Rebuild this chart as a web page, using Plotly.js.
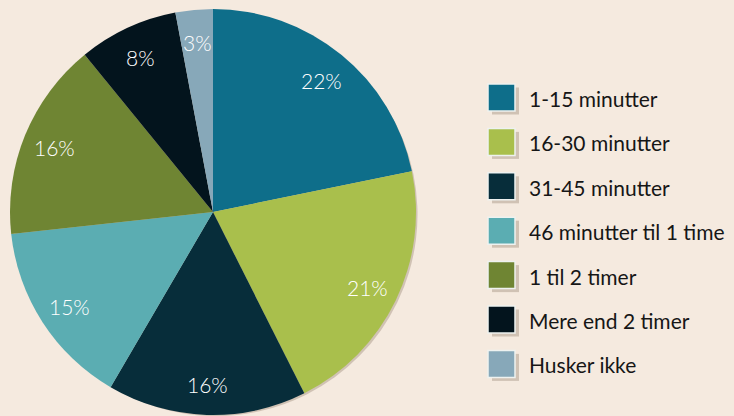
<!DOCTYPE html>
<html><head><meta charset="utf-8">
<script src="https://cdn.plot.ly/plotly-3.0.1.min.js"></script>
<style>html,body{margin:0;padding:0;background:#f5eadf;}#chart{width:734px;height:416px;}</style>
</head><body><div id="chart"></div>
<script>
const categories = ["1-15 minutter","16-30 minutter","31-45 minutter","46 minutter til 1 time","1 til 2 timer","Mere end 2 timer","Husker ikke"];
const values = [22,21,16,15,16,8,3];
const percentLabels = ["22%","21%","16%","15%","16%","8%","3%"];
const colors = ["#0e6e8a","#a9bf4c","#072d3a","#5badb2","#6f8533","#03141d","#87a8b9"];

const W = 734, H = 416;
const cx = 213, cy = 212, R = 203;
const font = "Lato, 'Open Sans', sans-serif";

function dom(ox, oy){
  return {x:[(cx-R+ox)/W,(cx+R+ox)/W], y:[1-(cy+R+oy)/H, 1-(cy-R+oy)/H]};
}

const shadow = {
  type:'pie', values: values, labels: categories, sort:false, direction:'clockwise', rotation:0,
  marker:{colors: values.map(()=> 'rgba(110,90,70,0.28)'), line:{width:0}},
  textinfo:'none', hoverinfo:'skip', showlegend:false, domain: dom(3,4)
};
const pie = {
  type:'pie', values: values, labels: categories, sort:false, direction:'clockwise', rotation:0,
  marker:{colors: colors, line:{width:0}},
  textinfo:'none', hoverinfo:'label+percent', showlegend:false, domain: dom(0,0)
};

const annotations = [];
const shapes = [];
const total = values.reduce((a,b)=>a+b,0);
let cum = 0;
values.forEach((v,i)=>{
  const mid = (cum + v/2)/total*2*Math.PI;
  cum += v;
  const rr = R*0.845;
  const px = cx + rr*Math.sin(mid), py = cy - rr*Math.cos(mid);
  annotations.push({xref:'paper', yref:'paper', x:px/W, y:1-(py+1)/H, text:percentLabels[i], showarrow:false,
    xanchor:'center', yanchor:'middle', font:{family:font, size:21, weight:300, color:'#ffffff'}});
});

categories.forEach((c,i)=>{
  const yc = 97.5 + i*44.4;
  shapes.push({type:'rect', xref:'paper', yref:'paper', x0:(489+3)/W, x1:(516+3)/W, y0:1-(yc+14+3)/H, y1:1-(yc-13+3)/H,
    fillcolor:'rgba(110,90,70,0.28)', line:{width:0}, layer:'above'});
  shapes.push({type:'rect', xref:'paper', yref:'paper', x0:488/W, x1:515/W, y0:1-(yc+13.5)/H, y1:1-(yc-13.5)/H,
    fillcolor:colors[i], line:{color:'#eef2f0', width:1.5}, layer:'above'});
  annotations.push({xref:'paper', yref:'paper', x:527/W, y:1-(yc+1)/H, text:c, showarrow:false,
    xanchor:'left', yanchor:'middle', font:{family:font, size:21, weight:400, color:'#161616'}});
});

const layout = {
  width:W, height:H, margin:{l:0,r:0,t:0,b:0},
  paper_bgcolor:'#f5eadf', plot_bgcolor:'#f5eadf',
  showlegend:false, annotations: annotations, shapes: shapes
};
Plotly.newPlot('chart',[shadow, pie],layout,{displayModeBar:false, staticPlot:true});
</script></body></html>
